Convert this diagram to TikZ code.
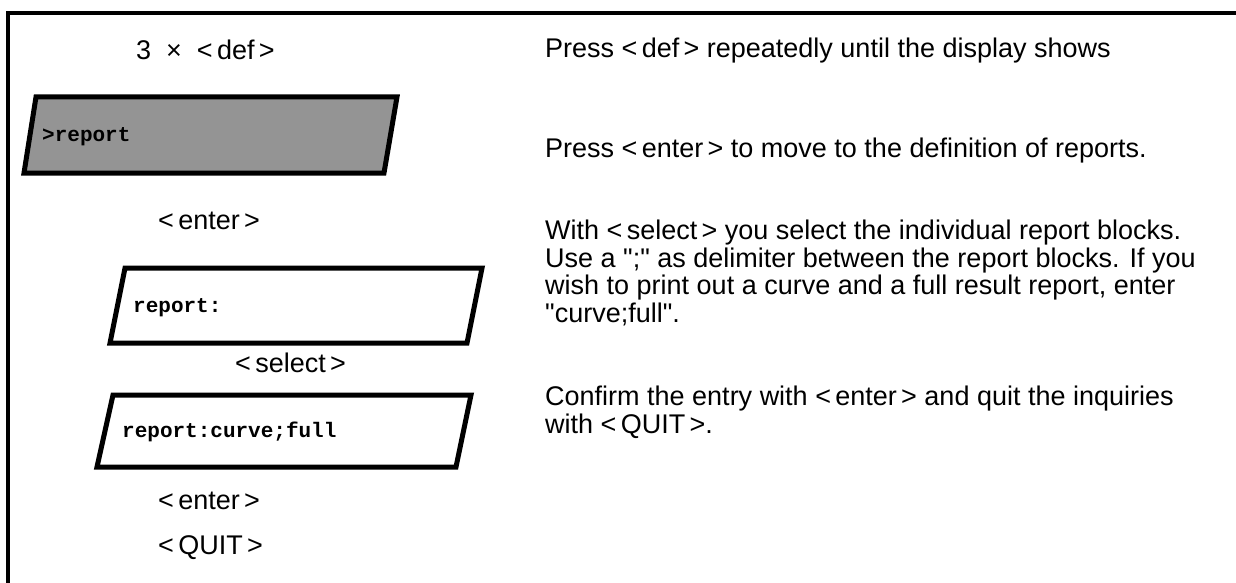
\documentclass[tikz,border=0pt]{standalone}
\usepackage{fontspec}
\setmainfont{Liberation Sans}
\newfontfamily\monob{Liberation Mono}
\newcommand{\qq}{\textquotedbl}
\newcommand{\key}[1]{<\hspace{0.16em}#1\hspace{0.16em}>}
\begin{document}
\begin{tikzpicture}[x=1pt,y=-1pt,
  frameline/.style={line width=4pt},
  scr/.style={line width=5pt, line join=miter},
  shade/.style={scr, fill=black!42},
  keytext/.style={font=\fontsize{27}{30}\selectfont, anchor=west, inner sep=0pt},
  desc/.style={font=\fontsize{27}{27.5}\selectfont, anchor=north west, inner sep=0pt, align=left},
  mono/.style={font=\monob\bfseries\fontsize{21}{24}\selectfont, anchor=west, inner sep=0pt}]
\useasboundingbox (0,0) rectangle (1236,583);
% frame
\draw[frameline] (8,583) -- (8,13) -- (1236,13);
% parallelograms
\draw[shade] (36,97) -- (397,97) -- (384,173) -- (24,173) -- cycle;
\draw[scr] (125,268) -- (482,268) -- (467,343) -- (110,343) -- cycle;
\draw[scr] (113,395) -- (471,395) -- (456,467) -- (97,467) -- cycle;
% left texts
\node[keytext] (k1) at (136,50) {3 \ ×\ \ \key{def}};
\node[mono] (s1) at (42,137) {>report};
\node[keytext] (k2) at (158,221) {\key{enter}};
\node[mono] (s2) at (133,308) {report:};
\node[keytext] (k3) at (235,363) {\key{select}};
\node[mono] (s3) at (122,432) {report:curve;full};
\node[keytext] (k4) at (158,501) {\key{enter}};
\node[keytext] (k5) at (158,548) {\key{QUIT}};
% right texts
\node[desc] (d1) at (545,38) {Press \key{def} repeatedly until the display shows};
\node[desc] (d2) at (545,138) {Press \key{enter} to move to the definition of reports.};
\node[desc] (d3) at (545,220) {With \key{select} you select the individual report blocks.\\
Use a \qq;\qq{} as delimiter between the report blocks. If you\\
wish to print out a curve and a full result report, enter\\
\qq curve;full\qq.};
\node[desc] (d4) at (545,386) {Confirm the entry with \key{enter} and quit the inquiries\\
with \key{QUIT}.};
\end{tikzpicture}
\end{document}
